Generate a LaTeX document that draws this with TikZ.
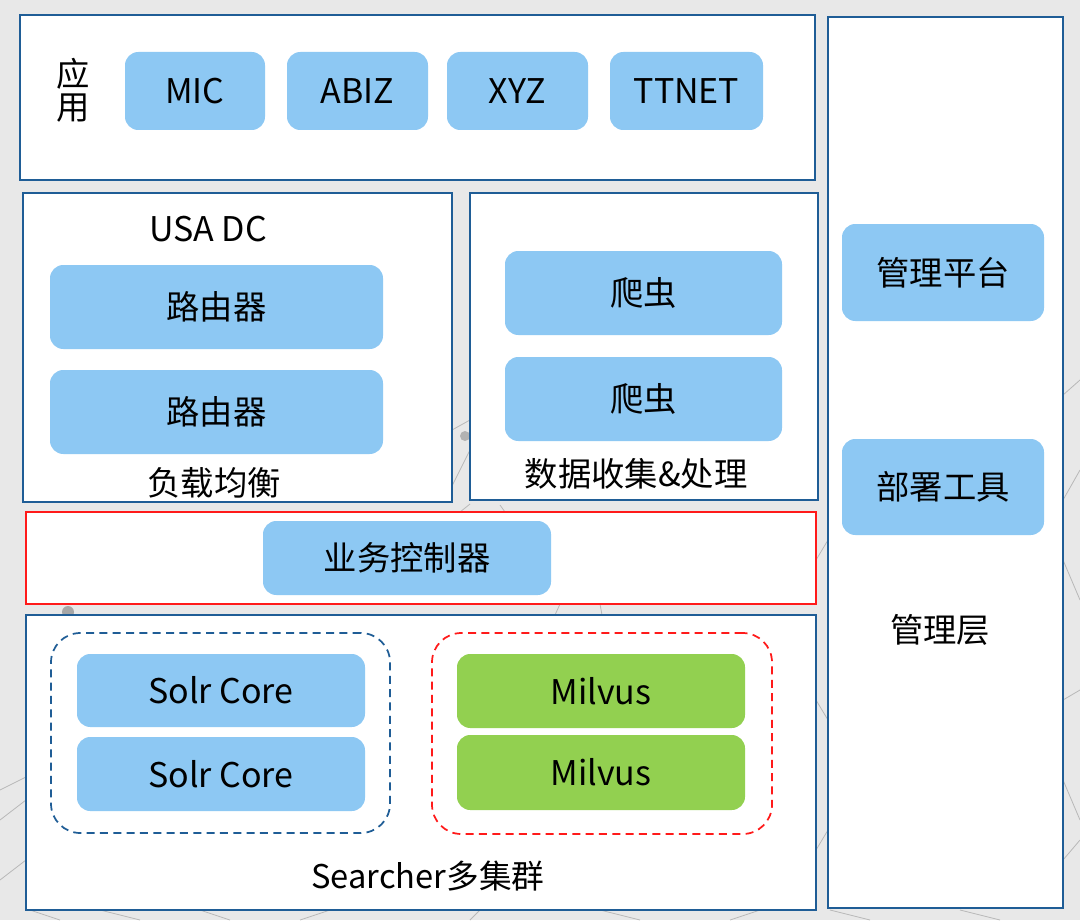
\documentclass[tikz,border=0pt]{standalone}
\usepackage{fontspec}
\setmainfont{Noto Sans CJK SC}
\usetikzlibrary{fit}
\definecolor{bgc}{HTML}{E8E8E8}
\definecolor{frame}{HTML}{1F5D96}
\definecolor{bluefill}{HTML}{8DC8F3}
\definecolor{greenfill}{HTML}{92D050}
\definecolor{redline}{HTML}{FF1A1A}
\definecolor{webline}{HTML}{B8B8B8}
\tikzset{
  panel/.style={draw=frame, line width=1.5pt, fill=white, inner sep=0pt},
  redpanel/.style={draw=redline, line width=1.5pt, fill=white, inner sep=0pt},
  bluebox/.style={fill=bluefill, rounded corners=10pt, inner sep=0pt},
  greenbox/.style={fill=greenfill, rounded corners=10pt, inner sep=0pt},
  grp/.style={draw, line width=1.3pt, dash pattern=on 6pt off 4pt, rounded corners=22pt, inner sep=0pt},
  lbl/.style={font=\fontsize{25}{28}\selectfont, inner sep=0pt},
  lbll/.style={font=\fontsize{25.5}{28}\selectfont, inner sep=0pt},
  web/.style={draw=webline, line width=0.6pt}
}
\begin{document}
\begin{tikzpicture}[x=0.75pt, y=-0.75pt]
\fill[bgc] (0,0) rectangle (1080,920);
\useasboundingbox (0,0) rectangle (1080,920);
% faint background web
\draw[web] (0,790) -- (60,760) -- (26,700);
\draw[web] (0,820) -- (26,800);
\draw[web] (0,880) -- (26,860);
\draw[web] (30,910) -- (60,920);
\draw[web] (452,430) -- (470,420);
\draw[web] (445,500) -- (470,450);
\draw[web] (460,512) -- (470,504);
\draw[web] (500,505) -- (505,512);
\draw[web] (560,604) -- (555,615);
\draw[web] (600,604) -- (602,615);
\draw[web] (816,560) -- (828,540);
\draw[web] (816,700) -- (828,720);
\draw[web] (816,850) -- (828,830);
\draw[web] (1063,500) -- (1080,470);
\draw[web] (1063,560) -- (1080,600);
\draw[web] (1063,700) -- (1080,690);
\draw[web] (1063,780) -- (1080,820);
\draw[web] (1063,860) -- (1080,840);
\draw[web] (1063,395) -- (1080,380);
\draw[web] (100,910) -- (140,920);
\draw[web] (200,910) -- (230,920);
\draw[web] (330,910) -- (300,920);
\draw[web] (480,910) -- (470,920);
\draw[web] (600,910) -- (640,920);
\draw[web] (760,910) -- (730,920);
\draw[web] (830,910) -- (870,920);
\draw[web] (960,910) -- (1000,920);
\fill[gray!70] (68,612) circle (6);
\fill[gray!60] (465,436) circle (5);
% panels
\node[panel, fit={(20,15)(815,180)}] (app) {};
\node[panel, fit={(23,193)(452,502)}] (usadc) {};
\node[panel, fit={(470,193)(818,500)}] (data) {};
\node[redpanel, fit={(26,512)(816,604)}] (ctrlpanel) {};
\node[panel, fit={(26,615)(816,910)}] (searcher) {};
\node[panel, fit={(828,17)(1063,908)}] (mgmt) {};
% app row
\node[lbl, align=center, font=\fontsize{25}{25}\selectfont] (applbl) at (73,90) {应\\用};
\node[bluebox, fit={(125,52)(265,130)}] (mic) {};
\node[bluebox, fit={(287,52)(428,130)}] (abiz) {};
\node[bluebox, fit={(447,52)(588,130)}] (xyz) {};
\node[bluebox, fit={(610,52)(763,130)}] (ttnet) {};
\node[lbll] (mict) at (mic.center) {MIC};
\node[lbll] (abizt) at (abiz.center) {ABIZ};
\node[lbll] (xyzt) at (xyz.center) {XYZ};
\node[lbll] (ttnett) at (ttnet.center) {TTNET};
% USA DC
\node[lbll] (usalbl) at (208,229) {USA DC};
\node[bluebox, fit={(50,265)(383,349)}] (router1) {};
\node[bluebox, fit={(50,370)(383,454)}] (router2) {};
\node[lbl] (router1t) at (router1.center) {路由器};
\node[lbl] (router2t) at (router2.center) {路由器};
\node[lbl] (lblb) at (214,483) {负载均衡};
% data
\node[bluebox, fit={(505,251)(782,335)}] (crawl1) {};
\node[bluebox, fit={(505,357)(782,441)}] (crawl2) {};
\node[lbl] (crawl1t) at (crawl1.center) {爬虫};
\node[lbl] (crawl2t) at (crawl2.center) {爬虫};
\node[lbl] (datalbl) at (636,474) {数据收集\&处理};
% controller
\node[bluebox, fit={(263,521)(551,595)}] (ctrl) {};
\node[lbl] (ctrlt) at (ctrl.center) {业务控制器};
% searcher
\node[grp, draw=frame, fit={(51,633)(390,833)}] (solrgrp) {};
\node[grp, draw=redline, fit={(432,633)(772,834)}] (milvusgrp) {};
\node[bluebox, fit={(77,654)(365,727)}] (solr1) {};
\node[bluebox, fit={(77,737)(365,811)}] (solr2) {};
\node[greenbox, fit={(457,654)(745,728)}] (milvus1) {};
\node[greenbox, fit={(457,735)(745,810)}] (milvus2) {};
\node[lbll] (solr1t) at (solr1.center) {Solr Core};
\node[lbll] (solr2t) at (solr2.center) {Solr Core};
\node[lbll] (milvus1t) at (milvus1.center) {Milvus};
\node[lbll] (milvus2t) at (milvus2.center) {Milvus};
\node[lbll, font=\fontsize{24.5}{28}\selectfont] (searchlbl) at (428,876) {Searcher多集群};
% management
\node[bluebox, fit={(842,224)(1044,321)}] (mgmtplat) {};
\node[bluebox, fit={(842,439)(1044,535)}] (deploy) {};
\node[lbl] (mgmtplatt) at (mgmtplat.center) {管理平台};
\node[lbl] (deployt) at (deploy.center) {部署工具};
\node[lbl] (mgmtlbl) at (940,630) {管理层};
\end{tikzpicture}
\end{document}
